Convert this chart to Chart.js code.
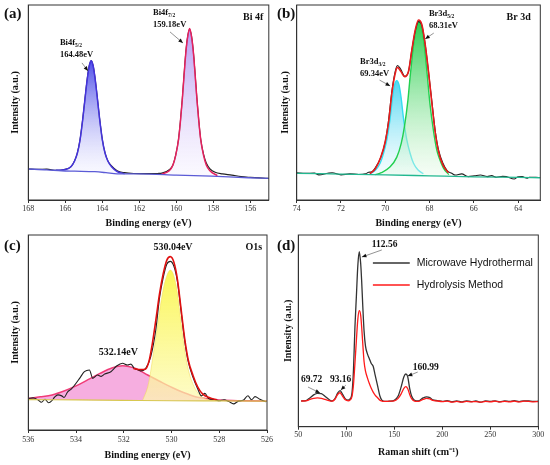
<!DOCTYPE html>
<html>
<head>
<meta charset="utf-8">
<script src="https://cdn.jsdelivr.net/npm/chart.js@4.4.0/dist/chart.umd.min.js"></script>
<style>
body { margin: 0; background: #fff; width: 550px; height: 465px; position: relative; overflow: hidden; }
canvas { position: absolute; }
.tag { position: absolute; font: bold 15px "Liberation Serif", serif; color: #111; }
</style>
</head>
<body>
<canvas id="chartA" width="275" height="232" style="left:0;top:0"></canvas>
<canvas id="chartB" width="275" height="232" style="left:275px;top:0"></canvas>
<canvas id="chartC" width="275" height="235" style="left:0;top:230px"></canvas>
<canvas id="chartD" width="275" height="235" style="left:275px;top:230px"></canvas>
<div class="tag" style="left:4px;top:5px">(a)</div>
<div class="tag" style="left:277px;top:5px">(b)</div>
<div class="tag" style="left:4px;top:237px">(c)</div>
<div class="tag" style="left:277px;top:237px">(d)</div>
<script>
// ---- (a) Bi 4f ----
const aTicks = [168, 166, 164, 162, 160, 158, 156];
const aBaseX = [168, 167, 166.2, 165.5, 164.4, 163.8, 163.2, 162, 160, 158.1, 156.1, 155];
const aBaseY = [15.9, 15.5, 15.0, 14.8, 14.5, 14.0, 13.4, 13.4, 12.8, 12.2, 11.4, 11.1];
const aRawX = [168, 167.5, 167, 166.5, 166.1, 165.7, 165.5, 165.35, 165.2, 165.05, 164.9, 164.8, 164.7, 164.6, 164.5, 164.4, 164.3, 164.15, 164, 163.85, 163.7, 163.5, 163.2, 162.8, 162.3, 161.5, 161, 160.78, 160.38, 160.18, 160.03, 159.88, 159.78, 159.68, 159.58, 159.48, 159.38, 159.28, 159.18, 159.08, 158.98, 158.88, 158.78, 158.68, 158.53, 158.38, 158.18, 157.9, 157.5, 157, 156.5, 156, 155.5, 155];
const aRawY = [15.9, 15.7, 15.8, 15.2, 15.5, 17, 20, 24, 31, 42, 55, 63, 69, 71.4, 69, 63, 55, 42, 31, 24, 20, 17.5, 15, 14, 13.6, 13.5, 13.6, 13.8, 15.5, 18, 23, 31, 40, 51, 64, 76, 84, 87.5, 84, 76, 64, 51, 40, 31, 23.5, 19, 16, 14.2, 13.4, 12.8, 12, 11.6, 11.3, 11.1];
const aLeftX = [166.5, 166.0, 165.7, 165.5, 165.35, 165.2, 165.05, 164.9, 164.8, 164.7, 164.6, 164.5, 164.4, 164.3, 164.15, 164.0, 163.85, 163.7, 163.5, 163.2, 162.8];
const aLeftY = [15.2, 15.6, 17, 20, 24, 31, 42, 55, 63, 69, 71.4, 69, 63, 55, 42, 31, 24, 20, 17, 14.6, 13.5];
const aRightX = [160.78, 160.38, 160.18, 160.03, 159.88, 159.78, 159.68, 159.58, 159.48, 159.38, 159.28, 159.18, 159.08, 158.98, 158.88, 158.78, 158.68, 158.53, 158.38, 158.18, 157.78];
const aRightY = [13.4, 15, 18, 23, 31, 40, 51, 64, 76, 84, 88, 84, 76, 64, 51, 40, 31, 23, 18, 15, 12.5];

// ---- (b) Br 3d ----
const bTicks = [74, 72, 70, 68, 66, 64];
const bBaseX = [74, 72, 70, 68, 66, 64, 63];
const bBaseY = [13.7, 13.3, 12.9, 12.4, 11.9, 11.6, 11.4];
const bRawX = [74, 73.6, 73.2, 73.0, 72.6, 72.4, 72.0, 71.6, 71.2, 70.9, 70.75, 70.6, 70.45, 70.2, 70, 69.85, 69.7, 69.55, 69.45, 69.3, 69.12, 68.95, 68.8, 68.65, 68.5, 68.35, 68.2, 68.05, 67.9, 67.75, 67.6, 67.4, 67.2, 67.0, 66.84, 66.55, 66.26, 65.97, 65.7, 65.4, 65.2, 64.98, 64.7, 64.54, 64.18, 64.0, 63.82, 63.6, 63.5, 63.2, 63];
const bRawY = [13.9, 13.7, 13.8, 12.9, 13.7, 14.0, 12.9, 13.4, 13.1, 13.4, 14.2, 14.5, 16.5, 22, 30, 41, 56, 66, 69, 67, 63.5, 66, 77, 86.5, 91.5, 89.5, 80, 66, 51, 36, 26, 19, 15, 13.7, 12.8, 13.4, 12.0, 12.4, 12.8, 12.0, 12.5, 11.7, 12.1, 12.0, 10.8, 11.9, 12.0, 11.2, 11.7, 11.6, 11.5];
const bCyanX = [70.68, 70.43, 70.23, 70.08, 69.93, 69.78, 69.68, 69.58, 69.48, 69.38, 69.28, 69.18, 69.03, 68.88, 68.73, 68.53, 68.28];
const bCyanY = [13.5, 15.5, 19, 24, 31, 42, 52, 59, 61.2, 59, 52, 42, 31, 24, 19, 15.5, 13.5];
const bGreenX = [70.45, 70.18, 69.78, 69.48, 69.28, 69.13, 68.98, 68.88, 68.78, 68.68, 68.58, 68.48, 68.38, 68.28, 68.18, 68.08, 67.98, 67.83, 67.68, 67.58, 67.38, 67.13];
const bGreenY = [13, 14, 17, 22, 29, 38, 51, 63, 74, 83, 89, 91.5, 89, 83, 73, 61, 49, 36, 26, 22, 16.5, 13];
const bSumX = [70.7, 70.45, 70.2, 70.0, 69.85, 69.7, 69.55, 69.45, 69.3, 69.12, 68.95, 68.8, 68.65, 68.5, 68.35, 68.2, 68.05, 67.9, 67.75, 67.6, 67.4, 67.15];
const bSumY = [13.5, 16, 22, 30, 40, 55, 65, 68, 66, 63.2, 66, 77, 87, 92.3, 90, 80, 66, 50, 35, 25, 18, 14];

// ---- (c) O 1s ----
const cTicks = [536, 534, 532, 530, 528, 526];
const cBaseX = [536, 534, 532, 530, 528, 526];
const cBaseY = [15.6, 15.4, 15.2, 15.0, 14.9, 14.8];
const cRawX = [536, 535.8, 535.6, 535.45, 535.3, 535.15, 535.0, 534.9, 534.76, 534.6, 534.5, 534.35, 534.2, 534.06, 533.85, 533.65, 533.44, 533.3, 533.1, 532.95, 532.8, 532.54, 532.3, 532.05, 531.84, 531.7, 531.56, 531.4, 531.29, 531.08, 530.87, 530.66, 530.5, 530.35, 530.2, 530.05, 529.9, 529.75, 529.6, 529.45, 529.3, 529.1, 528.9, 528.75, 528.6, 528.45, 528.2, 528.0, 527.8, 527.6, 527.4, 527.2, 527.0, 526.8, 526.65, 526.5, 526.3, 526.05];
const cRawY = [16.2, 16.5, 15.5, 14.2, 15.8, 14.0, 15.2, 16.8, 18, 17.5, 16.7, 19.6, 21, 23, 26.5, 29.9, 30.8, 26.5, 28.2, 27.5, 28.7, 29.9, 32.8, 34.2, 33.3, 33.8, 31.6, 30.8, 30.3, 31.6, 37.6, 51.3, 68, 78, 85, 86.5, 84, 76, 61, 46, 35, 27, 21, 17.5, 18.8, 16.2, 15.6, 15.0, 15.5, 14.6, 13.4, 14.8, 15.2, 17.6, 15.5, 17.1, 15.8, 14.5];
const cPinkX = [536, 535.5, 535, 534.5, 534, 533.5, 533, 532.5, 532.05, 531.5, 531, 530.5, 530, 529.5, 529, 528.5, 528, 527, 526];
const cPinkY = [16.2, 17, 18, 20, 22.6, 25.8, 29, 31.8, 33, 31.5, 28.2, 25, 21.9, 19.2, 17.1, 16, 15.4, 15, 14.8];
const cYellowX = [531.2, 531.0, 530.9, 530.8, 530.65, 530.5, 530.35, 530.2, 530.05, 529.9, 529.75, 529.6, 529.45, 529.3, 529.1, 528.9, 528.7, 528.4, 528.0];
const cYellowY = [15.5, 22, 28, 36, 48, 61, 72, 79, 82, 79, 70, 55, 41, 31, 23.5, 19, 16.8, 15.5, 15];
const cSumX = [531.6, 531.3, 531.1, 530.95, 530.8, 530.65, 530.5, 530.35, 530.2, 530.05, 529.9, 529.75, 529.6, 529.45, 529.3, 529.1, 528.9, 528.7, 528.4, 528.1];
const cSumY = [31.5, 31, 31.2, 35, 44.6, 57, 70, 80, 87, 88.9, 86, 77, 62, 47, 36, 28, 22, 18.5, 16.5, 15.5];

// ---- (d) Raman ----
const dTicks = [50, 100, 150, 200, 250, 300];
const dShift = [53, 58, 62, 66, 70, 74, 78, 82, 85, 88, 91, 93.5, 96, 99, 102, 104, 106, 107.5, 109, 110.5, 112, 113.5, 115, 116, 117.2, 118.5, 120, 122, 124, 126, 128, 130, 132.8, 135, 137, 140, 145, 150, 154, 157, 160, 162, 164, 166, 168, 171, 175, 180, 183.5, 187, 190, 195, 200, 205, 210, 215, 220, 225, 230, 235, 240, 245, 250, 255, 260, 265, 270, 275, 280, 285, 290, 295, 300];
const dMicrowave = [13.4, 13.6, 15, 16.6, 17.4, 17.2, 15.8, 14.2, 13.4, 14.5, 17.5, 18.8, 17, 14.5, 13.9, 14.5, 18, 30, 52, 68, 84, 91.3, 85, 76, 62.6, 50, 42, 38, 35.5, 33, 31.5, 27, 20.9, 16, 13.9, 13.2, 13.3, 13.8, 16, 20.5, 26, 27.5, 26, 20, 16, 13.8, 13.4, 15, 15.6, 15.2, 14, 13.6, 13.2, 13.6, 13.0, 13.4, 12.9, 13.5, 13.1, 13.4, 12.8, 13.5, 13.2, 13.5, 13.0, 13.4, 13.2, 13.6, 13.1, 13.5, 13.4, 13.2, 13.3];
const dHydrolysis = [13.4, 13.5, 14.2, 14.8, 15, 14.8, 14.2, 13.6, 13.3, 14.2, 16.8, 17.7, 16, 14, 13.5, 14, 16, 22, 33, 45, 56, 60.5, 58, 52, 43, 34, 29, 25.5, 22.5, 20, 18, 16.5, 15, 13.8, 13.4, 13.2, 13.3, 13.5, 14.8, 17, 20, 20.9, 19.8, 16.8, 14.6, 13.4, 13.2, 14.2, 14.8, 14.5, 13.7, 13.4, 13.1, 13.3, 12.8, 13.2, 12.8, 13.2, 13.0, 13.1, 12.8, 13.2, 13.0, 13.3, 12.9, 13.2, 13.0, 13.3, 12.9, 13.3, 13.2, 13.0, 13.1];

const serif = '"Liberation Serif", "Times New Roman", serif';
Chart.defaults.font.family = serif;
Chart.defaults.animation = false;

function pts(xs, ys) {
  return xs.map((x, i) => ({ x: x, y: ys[i] }));
}

function grad(top, bottom, ys) {
  return (ctx) => {
    const ch = ctx.chart;
    if (!ch.chartArea) return top;
    const sy = ch.scales.y;
    const g = ch.ctx.createLinearGradient(0, sy.getPixelForValue(Math.max(...ys)), 0, sy.getPixelForValue(Math.min(...ys)));
    g.addColorStop(0, top);
    g.addColorStop(1, bottom);
    return g;
  };
}

function line(data, color, width, order, extra) {
  return Object.assign({
    data: data, borderColor: color, borderWidth: width, order: order,
    pointRadius: 0, fill: false, cubicInterpolationMode: 'monotone'
  }, extra || {});
}

// text, arrows and legend drawn at data coordinates
function notes(items) {
  return {
    id: 'notes',
    afterDraw(chart) {
      const c = chart.ctx, sx = chart.scales.x, sy = chart.scales.y, a = chart.chartArea;
      c.save();
      c.strokeStyle = '#333';
      c.lineWidth = 1;
      c.strokeRect(a.left, a.top, a.right - a.left, a.bottom - a.top);
      items.forEach(n => {
        const px = sx.getPixelForValue(n.x), py = sy.getPixelForValue(n.y);
        if (n.arrow) {
          const qx = sx.getPixelForValue(n.arrow[0]), qy = sy.getPixelForValue(n.arrow[1]);
          c.strokeStyle = '#777';
          c.lineWidth = 0.8;
          c.beginPath(); c.moveTo(px, py); c.lineTo(qx, qy); c.stroke();
          const ang = Math.atan2(qy - py, qx - px);
          c.fillStyle = '#111';
          c.beginPath();
          c.moveTo(qx, qy);
          c.lineTo(qx - 5 * Math.cos(ang - 0.4), qy - 5 * Math.sin(ang - 0.4));
          c.lineTo(qx - 5 * Math.cos(ang + 0.4), qy - 5 * Math.sin(ang + 0.4));
          c.closePath(); c.fill();
          return;
        }
        if (n.swatch) {
          const qx = sx.getPixelForValue(n.swatch);
          c.strokeStyle = n.color;
          c.lineWidth = 1.5;
          c.beginPath(); c.moveTo(px, py); c.lineTo(qx, py); c.stroke();
          return;
        }
        c.fillStyle = '#111';
        c.textBaseline = 'middle';
        c.font = (n.sans ? '' : 'bold ') + n.size + 'px ' + (n.sans ? '"Liberation Sans", Arial, sans-serif' : serif);
        c.textAlign = n.right ? 'right' : 'left';
        c.fillText(n.t, px, py);
        if (n.sub) {
          const w = c.measureText(n.t).width;
          c.font = 'bold ' + (n.size * 0.65) + 'px ' + serif;
          c.textAlign = 'left';
          c.fillText(n.sub, px + w, py + n.size * 0.3);
        }
      });
      c.restore();
    }
  };
}

function makeChart(id, box, xr, ticks, xTitle, datasets, items) {
  new Chart(document.getElementById(id), {
    type: 'line',
    data: { datasets: datasets },
    options: {
      responsive: false,
      layout: { padding: { left: 0, top: box.top, right: box.right, bottom: 0 } },
      plugins: { legend: { display: false }, tooltip: { enabled: false } },
      scales: {
        x: {
          type: 'linear', min: xr[0], max: xr[1], reverse: xr[2],
          afterBuildTicks: s => { s.ticks = ticks.map(v => ({ value: v })); },
          afterFit: s => { s.height = box.xh; },
          ticks: { font: { size: 8 }, color: '#333', padding: box.tp, maxRotation: 0, autoSkip: false },
          grid: { drawOnChartArea: false, tickLength: 3, color: '#333' },
          border: { color: '#333' },
          title: { display: true, text: xTitle, color: '#111', font: { size: 10, weight: 'bold' }, padding: { top: 0, bottom: box.xt } }
        },
        y: {
          min: 0, max: 100,
          afterFit: s => { s.width = box.yw; },
          ticks: { display: false },
          grid: { display: false },
          border: { color: '#333' },
          title: { display: true, text: 'Intensity (a.u.)', color: '#111', font: { size: 10, weight: 'bold' }, padding: { top: box.yt, bottom: 0 } }
        }
      }
    },
    plugins: [notes(items)]
  });
}

makeChart('chartA', { top: 5, right: 6.2, yw: 28.3, xh: 32, tp: 1, xt: 3, yt: 9 }, [155, 168, true], aTicks, 'Binding energy (eV)', [
  line(pts(aBaseX, aBaseY), '#5b5bd6', 1.3, 0),
  line(pts(aRawX, aRawY), '#222', 1.2, 3),
  line(pts(aLeftX, aLeftY), '#4433dd', 1.5, 1, { fill: { target: 0 }, backgroundColor: grad('rgba(60,60,230,0.9)', 'rgba(235,235,255,0.3)', aLeftY) }),
  line(pts(aRightX, aRightY), '#e8205e', 1.5, 1, { fill: { target: 0 }, backgroundColor: grad('rgba(160,120,235,0.75)', 'rgba(240,235,255,0.3)', aRightY) })
], [
  { t: 'Bi4f', sub: '5/2', x: 166.29, y: 80.5, size: 8.5 },
  { t: '164.48eV', x: 166.29, y: 74.4, size: 8.5 },
  { x: 165.1, y: 70.3, arrow: [164.77, 66.2] },
  { t: 'Bi4f', sub: '7/2', x: 161.26, y: 95.9, size: 8.5 },
  { t: '159.18eV', x: 161.26, y: 89.7, size: 8.5 },
  { x: 160.34, y: 86.2, arrow: [159.64, 80.5] },
  { t: 'Bi 4f', x: 155.3, y: 93.8, size: 10, right: true }
]);

makeChart('chartB', { top: 5, right: 9.7, yw: 21.7, xh: 32, tp: 1, xt: 3, yt: 4 }, [63, 74, true], bTicks, 'Binding energy (eV)', [
  line(pts(bBaseX, bBaseY), '#22b890', 1.3, 0),
  line(pts(bRawX, bRawY), '#222', 1.1, 2),
  line(pts(bCyanX, bCyanY), '#33ddf0', 1.4, 4, { fill: { target: 0 }, backgroundColor: grad('rgba(60,210,240,0.9)', 'rgba(225,248,252,0.4)', bCyanY) }),
  line(pts(bGreenX, bGreenY), '#22d050', 1.4, 3, { fill: { target: 0 }, backgroundColor: grad('rgba(20,200,60,0.9)', 'rgba(230,250,230,0.4)', bGreenY) }),
  line(pts(bSumX, bSumY), '#e81c1c', 1.6, 1)
], [
  { t: 'Br3d', sub: '3/2', x: 71.14, y: 70.8, size: 8.5 },
  { t: '69.34eV', x: 71.14, y: 64.6, size: 8.5 },
  { x: 70.26, y: 61.5, arrow: [69.78, 58.5] },
  { t: 'Br3d', sub: '5/2', x: 68.03, y: 95.4, size: 8.5 },
  { t: '68.31eV', x: 68.03, y: 89.2, size: 8.5 },
  { x: 67.81, y: 85.6, arrow: [68.2, 82.6] },
  { t: 'Br 3d', x: 63.43, y: 93.8, size: 10, right: true }
]);

makeChart('chartC', { top: 5, right: 7, yw: 28.3, xh: 35, tp: 2, xt: 4, yt: 9 }, [526, 536, true], cTicks, 'Binding energy (eV)', [
  line(pts(cBaseX, cBaseY), '#d8c850', 1.2, 0),
  line(pts(cRawX, cRawY), '#222', 1.1, 2),
  line(pts(cPinkX, cPinkY), '#f03c78', 1.5, 4, { fill: { target: 0 }, backgroundColor: 'rgba(240,125,205,0.62)' }),
  line(pts(cYellowX, cYellowY), 'rgba(240,215,80,0.6)', 0.8, 3, { fill: { target: 0 }, backgroundColor: grad('rgba(250,245,60,0.85)', 'rgba(253,250,175,0.7)', cYellowY) }),
  line(pts(cSumX, cSumY), '#e01010', 1.6, 1)
], [
  { t: '530.04eV', x: 530.76, y: 93.8, size: 10 },
  { t: '532.14eV', x: 533.05, y: 40, size: 10 },
  { t: 'O1s', x: 526.2, y: 93.8, size: 10, right: true }
]);

makeChart('chartD', { top: 5, right: 11.7, yw: 23.3, xh: 38.3, tp: 0, xt: 7, yt: 7 }, [50, 300, false], dTicks, 'Raman shift (cm\u207B\u00B9)', [
  line(pts(dShift, dMicrowave), '#333', 1.3, 2),
  line(pts(dShift, dHydrolysis), '#ff1a1a', 1.3, 1)
], [
  { t: '112.56', x: 126.6, y: 94.8, size: 9.5 },
  { x: 137, y: 92.2, arrow: [116.2, 88.5] },
  { t: '69.72', x: 52.8, y: 24.4, size: 9.5 },
  { x: 60.1, y: 20.7, arrow: [72.6, 17.6] },
  { t: '93.16', x: 83, y: 24.4, size: 9.5 },
  { x: 99.5, y: 21.7, arrow: [94.3, 19.1] },
  { t: '160.99', x: 169.2, y: 31.1, size: 9.5 },
  { x: 174.4, y: 28.5, arrow: [164, 26.4] },
  { x: 127.7, y: 85.4, swatch: 166.1, color: '#333' },
  { t: 'Microwave Hydrothermal', x: 173.4, y: 85.4, size: 10.5, sans: true },
  { x: 127.7, y: 73.9, swatch: 166.1, color: '#ff1a1a' },
  { t: 'Hydrolysis Method', x: 173.4, y: 73.9, size: 10.5, sans: true }
]);
</script>
</body>
</html>
